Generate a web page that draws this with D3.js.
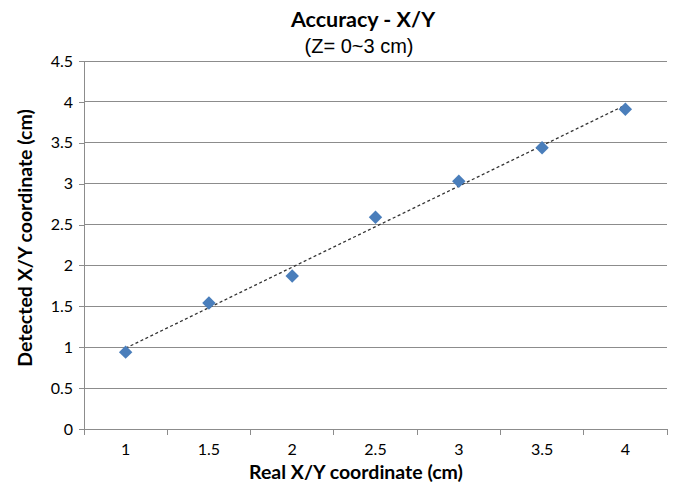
<!DOCTYPE html>
<html>
<head>
<meta charset="utf-8">
<script src="https://cdn.jsdelivr.net/npm/d3@7"></script>
<style>
  body { margin: 0; background: #fff; }
  text { font-family: Lato, "Open Sans", sans-serif; fill: #000; }
</style>
</head>
<body>
<svg id="chart" width="674" height="487"></svg>
<script>
// real X/Y coordinate (cm), categories on the x axis
var realXY = [1, 1.5, 2, 2.5, 3, 3.5, 4];
var xLabels = ["1", "1.5", "2", "2.5", "3", "3.5", "4"];
// detected coordinate
var detected = [0.94, 1.54, 1.87, 2.59, 3.03, 3.44, 3.91];
var yTicks = [0, 0.5, 1, 1.5, 2, 2.5, 3, 3.5, 4, 4.5];

var svg = d3.select("#chart");
var plotL = 84, plotR = 667, plotT = 61, plotB = 429;

var x = d3.scaleBand().domain(xLabels).range([plotL, plotR]);
var y = d3.scaleLinear().domain([0, 4.5]).range([plotB, plotT]);

// gridlines
svg.append("g").selectAll("line")
  .data(yTicks.slice(1))
  .enter().append("line")
    .attr("x1", plotL).attr("x2", plotR)
    .attr("y1", function(d) { return y(d); })
    .attr("y2", function(d) { return y(d); })
    .attr("stroke", "#8c8c8c").attr("stroke-width", 1)
    .attr("shape-rendering", "crispEdges");

// y axis
var yAxis = svg.append("g")
  .attr("transform", "translate(" + plotL + ",0)")
  .call(d3.axisLeft(y).tickValues(yTicks).tickSize(5).tickPadding(6)
    .tickFormat(function(d) { return d; }));
yAxis.select(".domain").attr("d", "M0," + plotT + "V" + plotB);
yAxis.selectAll("path, line").attr("stroke", "#8c8c8c").attr("shape-rendering", "crispEdges");
yAxis.selectAll("text").style("font-size", "16px").style("font-family", "Lato, sans-serif").attr("fill", "#222");

// x axis, ticks between categories
var xAxis = svg.append("g").attr("transform", "translate(0," + plotB + ")");
xAxis.append("line").attr("x1", plotL).attr("x2", plotR)
  .attr("stroke", "#8c8c8c").attr("shape-rendering", "crispEdges");
var bounds = xLabels.map(function(d) { return x(d); }).concat([plotR]);
xAxis.selectAll(".tk").data(bounds).enter().append("line")
  .attr("class", "tk")
  .attr("x1", function(d) { return d; }).attr("x2", function(d) { return d; })
  .attr("y1", 0).attr("y2", 6)
  .attr("stroke", "#8c8c8c").attr("shape-rendering", "crispEdges");
xAxis.selectAll(".lb").data(xLabels).enter().append("text")
  .attr("class", "lb")
  .attr("x", function(d) { return x(d) + x.bandwidth() / 2; })
  .attr("y", 26)
  .attr("text-anchor", "middle")
  .style("font-size", "16px").attr("fill", "#222")
  .text(function(d) { return d; });

// linear trendline from least squares
var mx = d3.mean(realXY), my = d3.mean(detected);
var sxy = d3.sum(realXY, function(v, i) { return (v - mx) * (detected[i] - my); });
var sxx = d3.sum(realXY, function(v) { return (v - mx) * (v - mx); });
var slope = sxy / sxx, icpt = my - slope * mx;
var cx = function(i) { return x(xLabels[i]) + x.bandwidth() / 2; };
var last = realXY.length - 1;
svg.append("line")
  .attr("x1", cx(0)).attr("y1", y(icpt + slope * realXY[0]))
  .attr("x2", cx(last)).attr("y2", y(icpt + slope * realXY[last]))
  .attr("stroke", "#333").attr("stroke-width", 1.3)
  .attr("stroke-dasharray", "3,2.5");

// diamond markers
svg.append("g").selectAll("path")
  .data(detected)
  .enter().append("path")
    .attr("d", d3.symbol().type(d3.symbolSquare).size(90))
    .attr("transform", function(d, i) { return "translate(" + cx(i) + "," + y(d) + ") rotate(45)"; })
    .attr("fill", "#4a7ebb");

// titles
svg.append("text").attr("x", 363).attr("y", 27).attr("text-anchor", "middle")
  .style("font-size", "21.5px").style("font-weight", "bold")
  .text("Accuracy - X/Y");
svg.append("text").attr("x", 359).attr("y", 53).attr("text-anchor", "middle")
  .style("font-family", "'Liberation Sans', Arial, sans-serif").style("font-size", "20px")
  .text("(Z= 0~3 cm)");
svg.append("text").attr("x", 356).attr("y", 479).attr("text-anchor", "middle")
  .style("font-size", "19.5px").style("font-weight", "bold")
  .text("Real X/Y coordinate (cm)");
svg.append("text").attr("transform", "translate(32,238) rotate(-90)").attr("text-anchor", "middle")
  .style("font-size", "19.5px").style("font-weight", "bold")
  .text("Detected  X/Y coordinate (cm)");
</script>
</body>
</html>
